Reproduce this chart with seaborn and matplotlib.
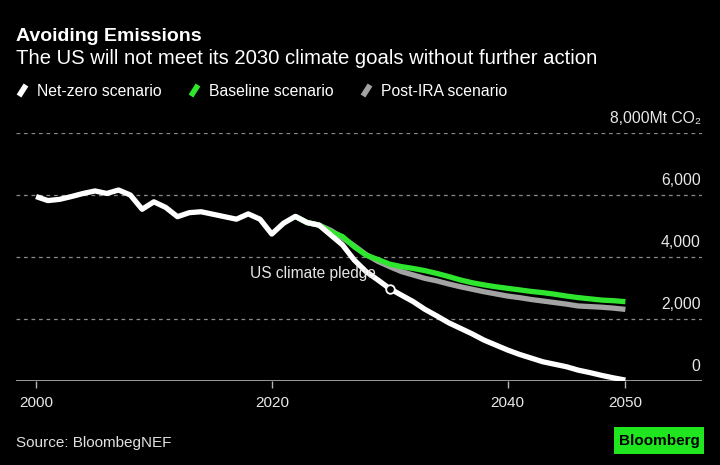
import numpy as np
import pandas as pd
import seaborn as sns
import matplotlib.pyplot as plt
from matplotlib.lines import Line2D
from matplotlib.patches import Rectangle

# values in thousand Mt CO2
years = list(range(2000, 2051))
net_zero = [5.95, 5.82, 5.86, 5.95, 6.05, 6.13, 6.05, 6.16, 6.00, 5.54,
            5.78, 5.60, 5.30, 5.43, 5.46, 5.38, 5.30, 5.22, 5.39, 5.22,
            4.74, 5.09, 5.31, 5.11, 5.03, 4.71, 4.39, 3.90, 3.53, 3.26,
            2.98, 2.77, 2.56, 2.31, 2.10, 1.88, 1.70, 1.52, 1.32, 1.16,
            1.00, 0.86, 0.74, 0.62, 0.54, 0.46, 0.35, 0.27, 0.18, 0.10,
            0.03]
proj_years = list(range(2022, 2051))
baseline = [5.31, 5.11, 5.03, 4.82, 4.66, 4.33, 4.06, 3.92, 3.77, 3.69,
            3.63, 3.56, 3.47, 3.37, 3.26, 3.17, 3.10, 3.04, 2.99, 2.94,
            2.89, 2.85, 2.80, 2.74, 2.69, 2.65, 2.61, 2.59, 2.56]
post_ira = [5.31, 5.11, 5.03, 4.86, 4.62, 4.36, 4.08, 3.86, 3.69, 3.53,
            3.42, 3.31, 3.23, 3.13, 3.04, 2.96, 2.88, 2.81, 2.74, 2.69,
            2.63, 2.58, 2.53, 2.48, 2.42, 2.40, 2.38, 2.35, 2.31]
series_names = ["Net-zero scenario", "Baseline scenario", "Post-IRA scenario"]
yticks = [0, 2000, 4000, 6000, 8000]
ytick_labels = ["0", "2,000", "4,000", "6,000", "8,000Mt CO\u2082"]
xticks = [2000, 2020, 2040, 2050]

WHITE = "#ffffff"
GREEN = "#2ee62e"
GRAY = "#a3a3a3"
colors = {series_names[0]: WHITE, series_names[1]: GREEN, series_names[2]: GRAY}

df = pd.concat([
    pd.DataFrame({"year": proj_years, "mt": np.array(post_ira) * 1000, "scenario": series_names[2]}),
    pd.DataFrame({"year": proj_years, "mt": np.array(baseline) * 1000, "scenario": series_names[1]}),
    pd.DataFrame({"year": years, "mt": np.array(net_zero) * 1000, "scenario": series_names[0]}),
])

sns.set_theme(style="dark")
plt.rcParams["font.family"] = ["Liberation Sans", "DejaVu Sans"]

fig = plt.figure(figsize=(7.2, 4.65), dpi=100, facecolor="black")
ax = fig.add_axes([16 / 720, 1 - 381 / 465, 686 / 720, 248 / 465])
ax.set_facecolor("black")

sns.lineplot(data=df, x="year", y="mt", hue="scenario", palette=colors,
             hue_order=[series_names[2], series_names[1], series_names[0]],
             linewidth=3.8, legend=False, ax=ax, solid_capstyle="butt")

# climate pledge marker at 2030
v2030 = net_zero[years.index(2030)] * 1000
ax.scatter([2030], [v2030], s=38, facecolor="black", edgecolor=WHITE, linewidth=1.3, zorder=5)
ax.annotate("US climate pledge", xy=(2030, v2030), xytext=(-10, 8), textcoords="offset points",
            color="#e6e6e6", fontsize=11.2, ha="right", va="baseline", zorder=6)

ax.set_xlim(1998.3, 2056.5)
ax.set_ylim(0, 8000)
ax.set_yticks(yticks)
ax.set_yticklabels([])
ax.tick_params(axis="y", length=0)
ax.grid(False)
for t in yticks[1:]:
    ax.axhline(t, color="#8a8a8a", lw=0.9, ls=(0, (3, 3)), zorder=0)
ax.axhline(0, color="#b5b5b5", lw=1.2, zorder=1)
for t, lab in zip(yticks, ytick_labels):
    ax.annotate(lab, xy=(1.0, t), xycoords=("axes fraction", "data"),
                xytext=(-1, 7.5), textcoords="offset points",
                ha="right", va="baseline", color="#e8e8e8", fontsize=11.3)

ax.set_xticks(xticks)
ax.set_xticklabels([str(x) for x in xticks])
ax.tick_params(axis="x", colors="#b5b5b5", length=5, width=1, pad=6,
               labelcolor="#e8e8e8", labelsize=11, bottom=True)
for s in ax.spines.values():
    s.set_visible(False)
ax.set_xlabel("")
ax.set_ylabel("")

# titles
fig.text(16 / 720, 1 - 41 / 465, "Avoiding Emissions", color="white", fontsize=14,
         fontweight="bold", va="baseline", ha="left")
fig.text(16 / 720, 1 - 63.5 / 465, "The US will not meet its 2030 climate goals without further action",
         color="white", fontsize=14.6, va="baseline", ha="left")

# legend
leg_x = [18, 190, 362]
for x0, name in zip(leg_x, series_names):
    fig.add_artist(Line2D([(x0 + 1) / 720, (x0 + 8) / 720],
                          [1 - 96 / 465, 1 - 85 / 465],
                          color=colors[name], lw=4, solid_capstyle="butt"))
    fig.text((x0 + 19) / 720, 1 - 96 / 465, name, color="white", fontsize=11.3,
             va="baseline", ha="left")

fig.text(16 / 720, 1 - 447 / 465, "Source: BloombegNEF", color="#e0e0e0", fontsize=11,
         va="baseline", ha="left")
fig.add_artist(Rectangle((614 / 720, 1 - 454 / 465), 90 / 720, 27 / 465,
                         transform=fig.transFigure, facecolor="#1fe61f", edgecolor="none"))
fig.text(659 / 720, 1 - 440.5 / 465, "Bloomberg", color="black", fontsize=11,
         fontweight="bold", va="center", ha="center")

fig.savefig("out.png", dpi=100, facecolor="black")
